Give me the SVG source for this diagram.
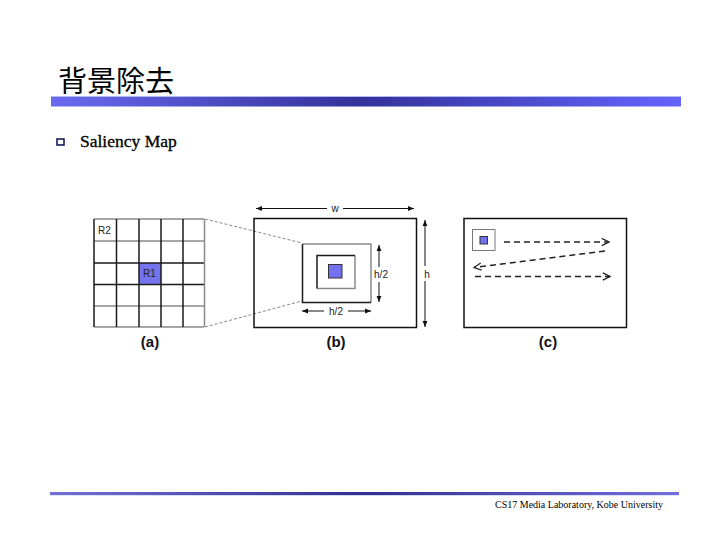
<svg xmlns="http://www.w3.org/2000/svg" width="720" height="540" viewBox="0 0 720 540">
<defs>
<linearGradient id="bar" x1="0" y1="0" x2="1" y2="0">
<stop offset="0" stop-color="#6a6af0"/>
<stop offset="0.49" stop-color="#32329a"/>
<stop offset="1" stop-color="#6464ff"/>
</linearGradient>
<linearGradient id="fbar" x1="0" y1="0" x2="1" y2="0">
<stop offset="0" stop-color="#7070d8"/>
<stop offset="0.5" stop-color="#303090"/>
<stop offset="1" stop-color="#7070e0"/>
</linearGradient>
<marker id="ah" viewBox="0 0 10 10" refX="10" refY="5" markerWidth="6" markerHeight="6" orient="auto-start-reverse" markerUnits="userSpaceOnUse">
<path d="M0,1 L10,5 L0,9 Z" fill="#111"/>
</marker>
<marker id="oh" viewBox="0 0 10 10" refX="9" refY="5" markerWidth="9" markerHeight="9" orient="auto" markerUnits="userSpaceOnUse">
<path d="M1,1 L9,5 L1,9" fill="none" stroke="#222" stroke-width="1.4"/>
</marker>
</defs>
<style>
.lbl{font-family:"Liberation Sans",Arial,sans-serif;font-size:10px;fill:#222}
.cap{font-family:"Liberation Sans",Arial,sans-serif;font-size:15px;font-weight:bold;fill:#111;text-anchor:middle}
.dk{stroke:#1a1a1a;stroke-width:1.5;fill:none}
.gr{stroke:#8a8a8a;stroke-width:1.5;fill:none}
.dash{stroke:#222;stroke-width:1.3;stroke-dasharray:6,4;fill:none;marker-end:url(#oh)}
.blue{fill:#7272f0;stroke:#333;stroke-width:1}
</style>
<rect width="720" height="540" fill="#fff"/>
<g id="title">
<text x="58" y="92" font-family="'Noto Sans CJK JP','Noto Sans CJK SC',sans-serif" font-size="29" fill="#000">背景除去</text>
<rect x="51" y="96" width="630" height="10.5" fill="url(#bar)"/>
<line x1="51" y1="96.5" x2="681" y2="96.5" stroke="#b8b8f0" stroke-width="1"/>
</g>
<g id="bullet">
<rect x="57" y="139" width="7" height="6" fill="none" stroke="#1a1a5a" stroke-width="1.6"/>
<text x="80" y="147" font-family="'Liberation Serif','Times New Roman',serif" font-size="17.5" fill="#000" stroke="#000" stroke-width="0.3">Saliency Map</text>
</g>
<g id="connectors">
<line x1="205" y1="219" x2="302" y2="243" stroke="#888" stroke-width="1" stroke-dasharray="3,2"/>
<line x1="205" y1="327" x2="302" y2="301" stroke="#888" stroke-width="1" stroke-dasharray="3,2"/>
</g>
<g id="panel-a">
<rect x="139" y="263" width="22" height="21" fill="#7474ee"/>
<line class="gr" x1="94" y1="219" x2="204" y2="219"/>
<line class="gr" x1="94" y1="241" x2="204" y2="241"/>
<line class="dk" x1="94" y1="263" x2="204" y2="263"/>
<line class="dk" x1="94" y1="284.5" x2="204" y2="284.5"/>
<line class="gr" x1="94" y1="306" x2="204" y2="306"/>
<line class="gr" x1="94" y1="327" x2="204" y2="327" stroke-width="2"/>
<line class="dk" x1="94" y1="219" x2="94" y2="327"/>
<line class="dk" x1="116.5" y1="219" x2="116.5" y2="327"/>
<line class="dk" x1="139" y1="219" x2="139" y2="327"/>
<line class="dk" x1="161" y1="219" x2="161" y2="327"/>
<line class="dk" x1="183" y1="219" x2="183" y2="327"/>
<line class="gr" x1="204.5" y1="219" x2="204.5" y2="327"/>
<text class="lbl" x="98" y="234">R2</text>
<text class="lbl" x="143" y="277">R1</text>
<text class="cap" x="150" y="347">(a)</text>
</g>
<g id="panel-b">
<rect x="254" y="218.5" width="162.5" height="109" fill="none" stroke="#111" stroke-width="1.5"/>
<line x1="256" y1="208.5" x2="327" y2="208.5" stroke="#111" stroke-width="1" marker-start="url(#ah)"/>
<line x1="343" y1="208.5" x2="414" y2="208.5" stroke="#111" stroke-width="1" marker-end="url(#ah)"/>
<text class="lbl" x="335" y="212" text-anchor="middle">w</text>
<line x1="425" y1="220" x2="425" y2="266" stroke="#111" stroke-width="1" marker-start="url(#ah)"/>
<line x1="425" y1="281" x2="425" y2="327" stroke="#111" stroke-width="1" marker-end="url(#ah)"/>
<text class="lbl" x="427" y="278" text-anchor="middle">h</text>
<path d="M302.5,244 H371 V302.5" class="gr"/>
<path d="M302.5,244 V302.5 H371" class="dk"/>
<path d="M317,288.5 H355 V255.5" class="gr" stroke-width="1.3"/>
<path d="M317,288.5 V255.5 H355" class="dk" stroke-width="1.3"/>
<rect class="blue" x="328.5" y="264.5" width="13.5" height="13.5"/>
<line x1="379" y1="245" x2="379" y2="267" stroke="#111" stroke-width="1" marker-start="url(#ah)"/>
<line x1="379" y1="282" x2="379" y2="302" stroke="#111" stroke-width="1" marker-end="url(#ah)"/>
<text class="lbl" x="381" y="278" text-anchor="middle">h/2</text>
<line x1="302" y1="311" x2="324" y2="311" stroke="#111" stroke-width="1" marker-start="url(#ah)"/>
<line x1="348" y1="311" x2="371" y2="311" stroke="#111" stroke-width="1" marker-end="url(#ah)"/>
<text class="lbl" x="336" y="315" text-anchor="middle">h/2</text>
<text class="cap" x="336" y="347">(b)</text>
</g>
<g id="panel-c">
<rect x="464" y="218.5" width="162.5" height="109" fill="none" stroke="#111" stroke-width="1.5"/>
<rect x="472.5" y="229.5" width="22.5" height="21" fill="#fff" stroke="#777" stroke-width="1"/>
<rect class="blue" x="480" y="236.5" width="7.5" height="7.5"/>
<line class="dash" x1="504" y1="242" x2="609" y2="242"/>
<line class="dash" x1="605" y1="251" x2="474" y2="267.5"/>
<line class="dash" x1="475" y1="276.5" x2="610" y2="276.5"/>
<text class="cap" x="548" y="347">(c)</text>
</g>
<g id="footer">
<rect x="50" y="492" width="629" height="3.2" fill="url(#fbar)"/>
<text x="495" y="507.5" font-family="'Liberation Serif','Times New Roman',serif" font-size="10" fill="#000" textLength="168" lengthAdjust="spacingAndGlyphs">CS17 Media Laboratory, Kobe University</text>
</g>
</svg>
